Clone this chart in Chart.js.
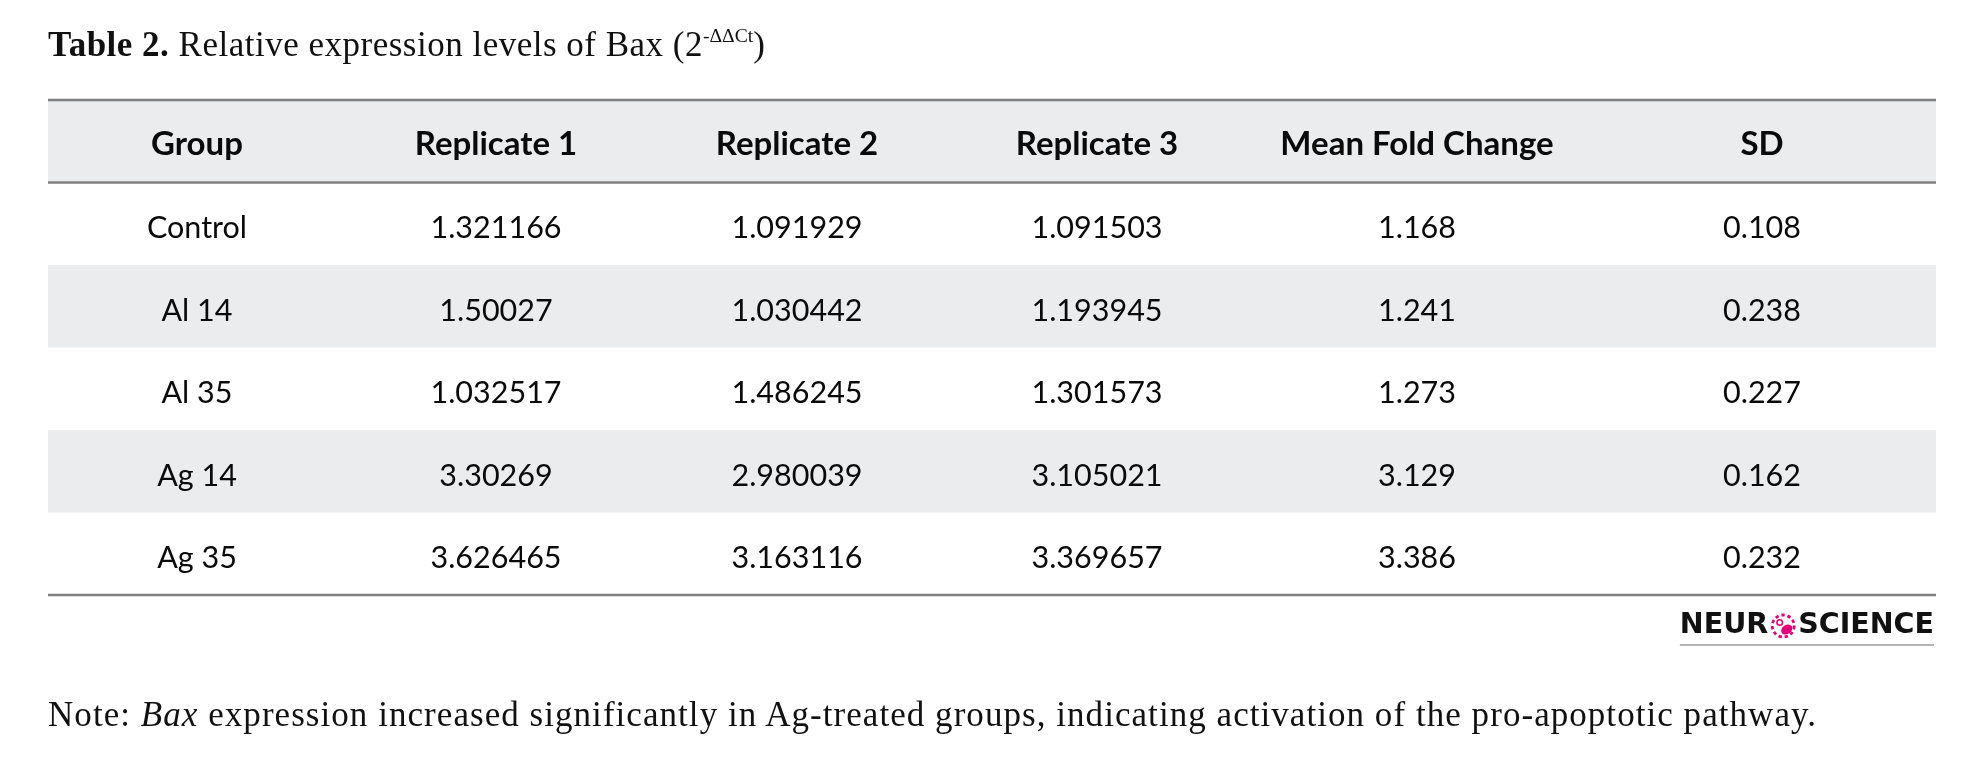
<!DOCTYPE html>
<html>
<head>
<meta charset="utf-8">
<script src="https://cdn.jsdelivr.net/npm/chart.js@4.4.1/dist/chart.umd.min.js"></script>
<style>
html,body{margin:0;padding:0;background:#fff;width:1981px;height:765px;overflow:hidden;}
#wrap{position:relative;width:1981px;height:765px;}
#c{position:absolute;left:0;top:0;}
.cap{position:absolute;left:48px;font-family:"Liberation Serif","Times New Roman",serif;color:#111;white-space:nowrap;line-height:1;}
#title{top:27px;font-size:35px;letter-spacing:0.5px;}
#note{top:697px;font-size:35px;letter-spacing:1.05px;}
.sup{font-size:0.56em;position:relative;top:-0.74em;letter-spacing:0;}
</style>
</head>
<body>
<div id="wrap">
<canvas id="c" width="1981" height="765"></canvas>
<div id="title" class="cap"><b>Table 2.</b> Relative expression levels of Bax (2<span class="sup">-ΔΔCt</span>)</div>
<div id="note" class="cap">Note: <i>Bax</i> expression increased significantly in Ag-treated groups, indicating activation of the pro-apoptotic pathway.</div>
</div>
<script>
// ---- data ----
const columns = ['Group', 'Replicate 1', 'Replicate 2', 'Replicate 3', 'Mean Fold Change', 'SD'];
const groups = ['Control', 'Al 14', 'Al 35', 'Ag 14', 'Ag 35'];
const replicate1 = [1.321166, 1.50027, 1.032517, 3.30269, 3.626465];
const replicate2 = [1.091929, 1.030442, 1.486245, 2.980039, 3.163116];
const replicate3 = [1.091503, 1.193945, 1.301573, 3.105021, 3.369657];
const meanFoldChange = [1.168, 1.241, 1.273, 3.129, 3.386];
const sd = [0.108, 0.238, 0.227, 0.162, 0.232];

// ---- layout (relative column widths) ----
const colWeights = [298, 300, 302, 298, 342, 348];
const totalW = colWeights.reduce((a, b) => a + b, 0);
const colCenters = colWeights.map((w, i) => colWeights.slice(0, i).reduce((a, b) => a + b, 0) + w / 2);

const HEADER = 'header';
const rowLabels = [HEADER].concat(groups);
const bodyRows = groups.map((g, i) => [g, replicate1[i], replicate2[i], replicate3[i], meanFoldChange[i], sd[i]].map(String));

const STYLE = {
  band: '#ebecee',
  rule: '#7f7f7f',
  headFont: 'bold 33px Lato, "Open Sans", sans-serif',
  bodyFont: '30.5px Lato, "Open Sans", sans-serif',
  text: '#0a0a0a',
  logoFont: 'bold 28.5px "DejaVu Sans", sans-serif',
  logoPink: '#e2007a'
};

const tablePlugin = {
  id: 'tablePlugin',
  beforeDatasetsDraw(chart) {
    const { ctx, scales: { x, y } } = chart;
    const band = y.getPixelForValue(1) - y.getPixelForValue(0);
    ctx.save();
    rowLabels.forEach((lab, r) => {
      if (r % 2 === 0) {
        const cy = y.getPixelForValue(r);
        ctx.fillStyle = STYLE.band;
        ctx.fillRect(x.getPixelForValue(0), cy - band / 2, x.getPixelForValue(totalW) - x.getPixelForValue(0), band);
      }
    });
    const left = x.getPixelForValue(0), right = x.getPixelForValue(totalW);
    const top = y.getPixelForValue(0) - band / 2;
    const headBottom = y.getPixelForValue(0) + band / 2;
    const bottom = y.getPixelForValue(rowLabels.length - 1) + band / 2;
    ctx.strokeStyle = STYLE.rule;
    ctx.lineWidth = 2.5;
    [top, headBottom, bottom].forEach(yy => {
      ctx.beginPath(); ctx.moveTo(left, yy); ctx.lineTo(right, yy); ctx.stroke();
    });
    ctx.restore();
  },
  afterDatasetsDraw(chart) {
    const { ctx, scales: { x, y } } = chart;
    ctx.save();
    ctx.textAlign = 'center';
    ctx.textBaseline = 'middle';
    ctx.fillStyle = STYLE.text;
    ctx.font = STYLE.headFont;
    columns.forEach((c, i) => ctx.fillText(c, x.getPixelForValue(colCenters[i]), y.getPixelForValue(0) + 3));
    ctx.font = STYLE.bodyFont;
    bodyRows.forEach((row, r) => {
      row.forEach((cell, i) => ctx.fillText(cell, x.getPixelForValue(colCenters[i]), y.getPixelForValue(r + 1) + 4.5));
    });
    ctx.restore();
  },
  afterDraw(chart) {
    // journal logo under the table, right aligned
    const { ctx, scales: { x, y } } = chart;
    const band = y.getPixelForValue(1) - y.getPixelForValue(0);
    const right = x.getPixelForValue(totalW) - 2;
    const cy = y.getPixelForValue(rowLabels.length - 1) + band / 2 + 31;
    ctx.save();
    ctx.font = STYLE.logoFont;
    ctx.textBaseline = 'middle';
    ctx.textAlign = 'left';
    const wS = ctx.measureText('SCIENCE').width;
    const wN = ctx.measureText('NEUR').width;
    const d = 26, gap = 2;
    const xS = right - wS;
    const icx = xS - gap - d / 2;
    const xN = icx - d / 2 - gap - wN;
    ctx.fillStyle = '#111';
    ctx.fillText('NEUR', xN, cy);
    ctx.fillText('SCIENCE', xS, cy);
    // icon
    ctx.strokeStyle = STYLE.logoPink;
    ctx.fillStyle = STYLE.logoPink;
    ctx.lineWidth = 2.8;
    ctx.setLineDash([3.4, 2.8]);
    ctx.beginPath(); ctx.arc(icx, cy, d / 2 - 2, 0, Math.PI * 2); ctx.stroke();
    ctx.setLineDash([]);
    ctx.beginPath(); ctx.ellipse(icx + 3.5, cy + 3.5, 6, 4.5, -0.6, 0, Math.PI * 2); ctx.fill();
    ctx.lineWidth = 1.6;
    ctx.beginPath(); ctx.arc(icx - 3.5, cy - 3.5, 2.8, 0, Math.PI * 2); ctx.stroke();
    // underline
    ctx.strokeStyle = '#9a9a9a';
    ctx.lineWidth = 1.5;
    ctx.beginPath(); ctx.moveTo(xN, cy + 19); ctx.lineTo(right, cy + 19); ctx.stroke();
    ctx.restore();
  }
};

function make() {
  new Chart(document.getElementById('c'), {
    type: 'scatter',
    data: { datasets: [{ data: [], pointRadius: 0 }] },
    options: {
      responsive: false,
      animation: false,
      devicePixelRatio: 1,
      layout: { padding: { left: 48, right: 45, top: 100, bottom: 170 } },
      plugins: { legend: { display: false }, tooltip: { enabled: false }, title: { display: false } },
      scales: {
        x: { type: 'linear', min: 0, max: totalW, display: false },
        y: { type: 'category', labels: rowLabels, offset: true, display: false }
      }
    },
    plugins: [tablePlugin]
  });
}

const fontLoads = document.fonts ? Promise.all([
  document.fonts.load(STYLE.headFont), document.fonts.load(STYLE.bodyFont), document.fonts.load(STYLE.logoFont)
]) : Promise.resolve();
fontLoads.then(make, make);
</script>
</body>
</html>
